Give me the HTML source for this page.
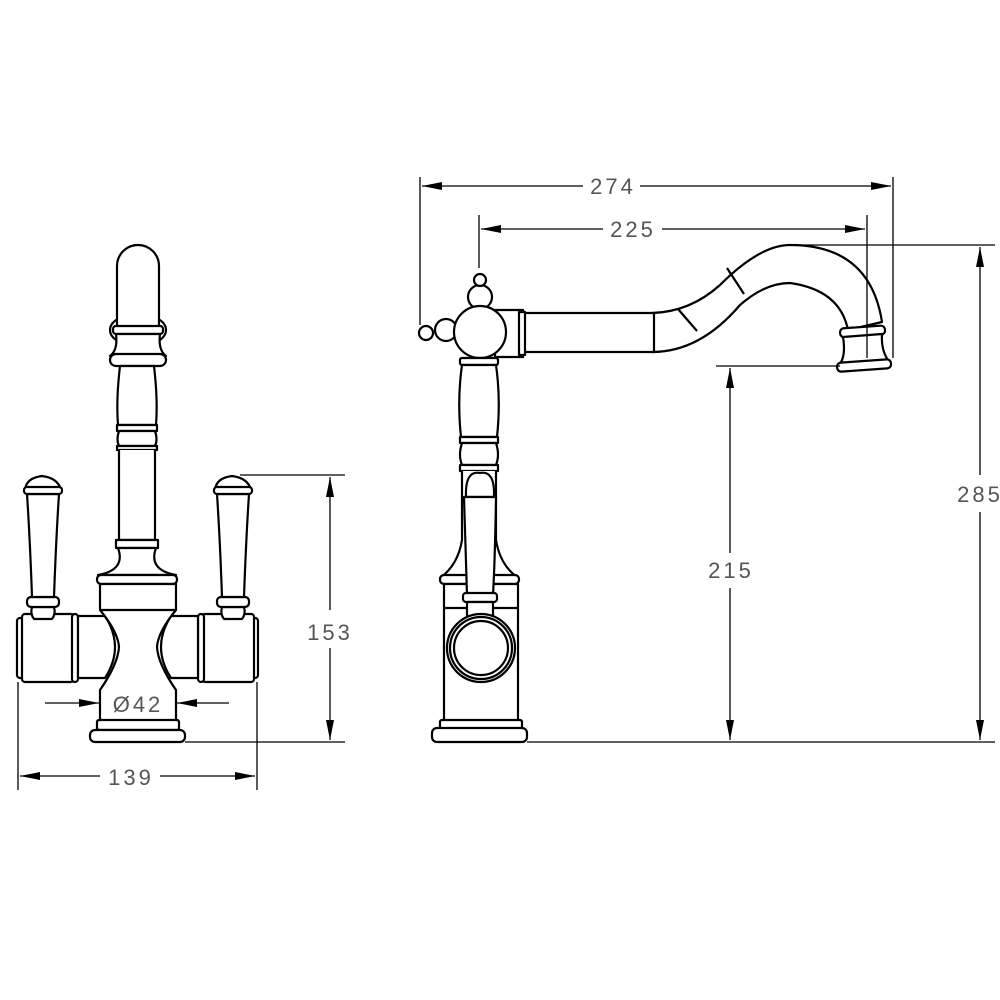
<!DOCTYPE html>
<html><head><meta charset="utf-8"><style>
html,body{margin:0;padding:0;background:#fff}
svg{display:block}
text{font-family:"Liberation Sans",sans-serif;font-size:22px;fill:#555;letter-spacing:3px}
</style></head><body>
<svg width="1000" height="1000" viewBox="0 0 1000 1000" xmlns="http://www.w3.org/2000/svg">
<defs>
<marker id="a" viewBox="0 0 20 8" refX="20" refY="4" markerWidth="20" markerHeight="8" markerUnits="userSpaceOnUse" orient="auto"><path d="M0,0 L20,4 L0,8 z" fill="#000"/></marker>
</defs>
<g fill="#fff" stroke="#000" stroke-width="2.2" stroke-linejoin="round">
<!-- LEFT VIEW -->
<!-- ring behind spout -->
<ellipse cx="138" cy="330" rx="28" ry="16"/>
<path d="M117,330 V266 A21,21 0 0 1 159,266 V330 Z"/>
<rect x="113" y="326" width="50" height="8" rx="3"/>
<path d="M116,334 Q118,350 110,356 H166 Q158,350 160,334 Z"/>
<rect x="110" y="354" width="56" height="12" rx="6"/>
<path d="M120,366 Q116,400 118,425 H156 Q158,400 154,366 Z"/>
<rect x="117" y="425" width="40" height="6"/>
<path d="M119,431 Q116,440 119,446 H155 Q158,440 155,431 Z"/>
<rect x="117" y="446" width="40" height="4"/>
<path d="M119,450 V540 H155 V450"/>
<rect x="116" y="540" width="42" height="8"/>
<path d="M118,548 Q126,570 98,575 H176 Q148,570 156,548 Z"/>
<rect x="97" y="575" width="80" height="9" rx="4"/>
<!-- side cylinders -->
<rect x="17" y="618" width="7" height="60" rx="3"/>
<rect x="22" y="614" width="52" height="68" rx="3"/>
<rect x="72" y="614" width="6" height="68" rx="3"/>
<path d="M78,616 H105 Q125,647 105,678 H78 Z"/>
<rect x="251" y="618" width="7" height="60" rx="3"/>
<rect x="202" y="614" width="52" height="68" rx="3"/>
<rect x="198" y="614" width="6" height="68" rx="3"/>
<path d="M198,616 H171 Q151,647 171,678 H198 Z"/>
<!-- body -->
<path d="M100,584 H176 V610 Q158,632 157,647 Q158,664 176,690 V727 H100 V690 Q118,664 119,647 Q118,632 100,610 Z"/>
<line x1="100" y1="610" x2="176" y2="610"/>
<rect x="97" y="720" width="82" height="10" rx="2"/>
<rect x="90" y="730" width="95" height="12" rx="5"/>
<!-- levers -->
<g id="lev">
<path d="M32,607 Q30,614 34,619 H52 Q56,614 54,607 Z"/>
<rect x="27" y="597" width="32" height="10" rx="4"/>
<path d="M27,494 Q30,540 32,597 H54 Q56,540 59,494 Z"/>
<path d="M25,490 Q26,478 42,476 Q58,478 61,490 Z"/>
<rect x="24" y="487" width="38" height="7" rx="3"/>
</g>
<use href="#lev" x="190"/>

<!-- RIGHT VIEW -->
<!-- spout curve -->
<path d="M652,313 Q690,312 720,285 Q760,245 790,245 Q870,245 882,322 L848,330 Q840,290 790,283 Q765,283 740,305 Q700,352 652,352 Z"/>
<line x1="678" y1="309" x2="697" y2="331"/>
<line x1="727" y1="268" x2="744" y2="294"/>
<rect x="840" y="327" width="45" height="9" rx="4" transform="rotate(-4 862 331)"/>
<path d="M843,337 Q846,355 840,364 L888,360 Q881,350 882,334 Z"/>
<rect x="837" y="361" width="54" height="9" rx="4" transform="rotate(-4 864 365)"/>
<!-- pipe -->
<rect x="524" y="313" width="130" height="39"/>
<rect x="495" y="310" width="28" height="47"/>
<rect x="519" y="312" width="6" height="43"/>
<!-- knobs -->
<circle cx="426" cy="333" r="7"/>
<circle cx="446" cy="330" r="11"/>
<circle cx="480" cy="297" r="12"/>
<circle cx="480" cy="280" r="6"/>
<circle cx="480" cy="332" r="26"/>
<!-- column -->
<rect x="460" y="358" width="38" height="7" rx="2"/>
<path d="M462,365 Q457,400 461,437 H497 Q501,400 496,365 Z"/>
<rect x="460" y="437" width="38" height="6"/>
<path d="M462,443 Q458,455 462,465 H496 Q500,455 496,443 Z"/>
<rect x="460" y="465" width="38" height="6"/>
<path d="M462,471 V540 Q458,565 440,578 H518 Q500,565 496,540 V471"/>
<rect x="440" y="575" width="79" height="9" rx="4"/>
<rect x="444" y="584" width="74" height="144"/>
<line x1="444" y1="608" x2="518" y2="608"/>
<rect x="440" y="720" width="82" height="9" rx="2"/>
<rect x="432" y="728" width="95" height="14" rx="5"/>
<!-- lever side -->
<path d="M466,497 Q465,470 480,473 Q495,470 494,497 Z"/>
<path d="M464,497 Q466,560 467,595 H493 Q495,560 496,497 Z"/>
<rect x="463" y="593" width="34" height="9" rx="3"/>
<rect x="467" y="602" width="26" height="14"/>
<circle cx="481" cy="648" r="34"/>
<circle cx="481" cy="648" r="31"/>
<circle cx="481" cy="648" r="27"/>
</g>

<!-- DIMENSIONS -->
<g stroke="#000" stroke-width="1.3" fill="none">
<!-- 153 -->
<line x1="240" y1="475" x2="345" y2="475"/>
<line x1="185" y1="742" x2="345" y2="742"/>
<line x1="330" y1="610" x2="330" y2="477" marker-end="url(#a)"/>
<line x1="330" y1="648" x2="330" y2="740" marker-end="url(#a)"/>
<!-- 139 -->
<line x1="18" y1="682" x2="18" y2="790"/>
<line x1="257" y1="682" x2="257" y2="790"/>
<line x1="100" y1="776" x2="20" y2="776" marker-end="url(#a)"/>
<line x1="160" y1="776" x2="255" y2="776" marker-end="url(#a)"/>
<!-- 42 -->
<line x1="45" y1="703" x2="99" y2="703" marker-end="url(#a)"/>
<line x1="229" y1="703" x2="177" y2="703" marker-end="url(#a)"/>
<!-- 274 -->
<line x1="420" y1="177" x2="420" y2="325"/>
<line x1="893" y1="177" x2="893" y2="358"/>
<line x1="583" y1="186" x2="422" y2="186" marker-end="url(#a)"/>
<line x1="640" y1="186" x2="891" y2="186" marker-end="url(#a)"/>
<!-- 225 -->
<line x1="479" y1="215" x2="479" y2="268"/>
<line x1="867" y1="215" x2="867" y2="358"/>
<line x1="603" y1="229" x2="481" y2="229" marker-end="url(#a)"/>
<line x1="662" y1="229" x2="865" y2="229" marker-end="url(#a)"/>
<!-- 285 -->
<line x1="790" y1="245" x2="995" y2="245"/>
<line x1="527" y1="742" x2="995" y2="742"/>
<line x1="980" y1="475" x2="980" y2="247" marker-end="url(#a)"/>
<line x1="980" y1="512" x2="980" y2="740" marker-end="url(#a)"/>
<!-- 215 -->
<line x1="716" y1="366" x2="840" y2="366"/>
<line x1="730" y1="553" x2="730" y2="368" marker-end="url(#a)"/>
<line x1="730" y1="588" x2="730" y2="740" marker-end="url(#a)"/>
</g>
<g>
<text x="330" y="640" text-anchor="middle">153</text>
<text x="131" y="785" text-anchor="middle">139</text>
<text x="138" y="712" text-anchor="middle">Ø42</text>
<text x="613" y="194" text-anchor="middle">274</text>
<text x="633" y="237" text-anchor="middle">225</text>
<text x="980" y="502" text-anchor="middle">285</text>
<text x="731" y="578" text-anchor="middle">215</text>
</g>
</svg>
</body></html>
